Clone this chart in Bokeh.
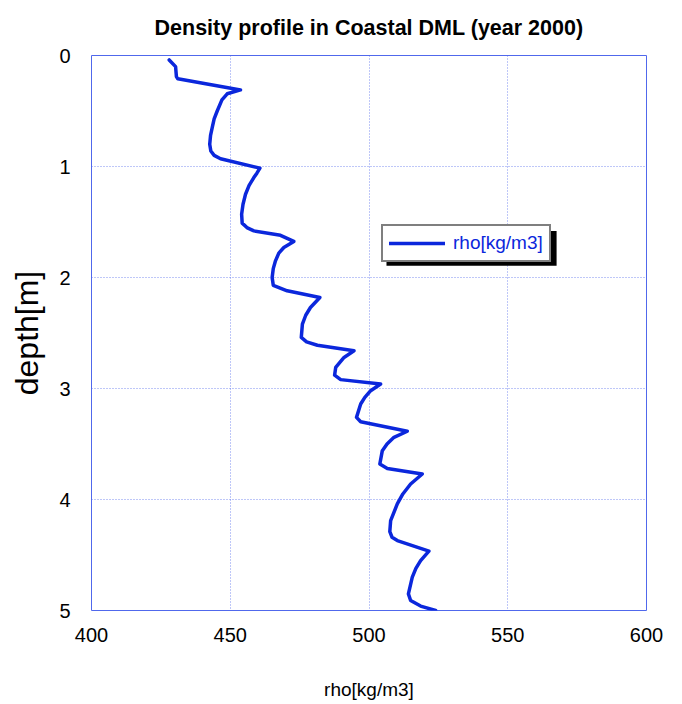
from bokeh.plotting import figure
from bokeh.models import (Range1d, FixedTicker, Legend, LegendItem, BoxAnnotation,
                          ColumnDataSource)
from bokeh.embed import file_html
from bokeh.resources import INLINE

# Firn density profile, Coastal DML, year 2000
depth_m = [0.04, 0.10, 0.19, 0.21, 0.31, 0.345, 0.40, 0.50, 0.57, 0.65, 0.72,
           0.80, 0.86, 0.90, 0.93,
           1.015, 1.06, 1.10, 1.17, 1.25, 1.34, 1.43, 1.51, 1.55, 1.58, 1.62,
           1.675, 1.73, 1.78, 1.85, 1.92, 2.00, 2.07, 2.12,
           2.18, 2.27, 2.34, 2.42, 2.54, 2.58, 2.61,
           2.66, 2.72, 2.81, 2.88, 2.92,
           2.96, 3.02, 3.08, 3.14, 3.26, 3.30,
           3.385, 3.44, 3.50, 3.56, 3.68, 3.72,
           3.77, 3.86, 3.95, 4.04, 4.19, 4.29, 4.34, 4.37,
           4.465, 4.55, 4.62, 4.70, 4.85, 4.91, 4.96, 5.00]
rho_kgm3 = [428.0, 430.3, 430.6, 431.1, 453.7, 448.9, 447.0, 445.3, 444.2, 443.5, 442.9,
            442.6, 443.0, 444.2, 446.5,
            460.7, 459.6, 458.5, 456.8, 455.5, 454.6, 454.1, 454.3, 456.0, 458.5, 468.1,
            472.9, 469.3, 467.5, 466.3, 465.5, 465.1, 465.5, 470.5,
            482.3, 478.9, 477.2, 476.0, 475.6, 477.5, 481.4,
            494.6, 491.0, 488.0, 487.6, 489.8,
            504.2, 500.6, 498.5, 497.0, 495.5, 497.0,
            513.8, 509.0, 506.5, 504.8, 503.9, 506.6,
            519.2, 515.0, 512.2, 510.2, 507.8, 507.5, 508.3, 510.2,
            521.6, 518.6, 516.9, 515.6, 514.2, 515.0, 518.6, 524.0]

x_ticks = [400, 450, 500, 550, 600]
y_ticks = [0, 1, 2, 3, 4, 5]

FONT = "Liberation Sans"
LINE_BLUE = "#0b27dc"
GRID_BLUE = "#5068ec"

p = figure(width=682, height=704, output_backend="svg", toolbar_location=None,
           x_range=Range1d(400, 600), y_range=Range1d(5, 0),
           min_border_left=91, min_border_right=36,
           min_border_top=55, min_border_bottom=94,
           title="Density profile in Coastal DML (year 2000)")

p.title.align = "center"
p.title.vertical_align = "top"
p.title.text_font = FONT
p.title.text_font_size = "21.5px"
p.title.text_font_style = "bold"
p.title.text_color = "black"
p.title.standoff = 28

p.outline_line_color = GRID_BLUE
p.outline_line_width = 1

for g in (p.xgrid, p.ygrid):
    g.grid_line_color = GRID_BLUE
    g.grid_line_dash = "1 2"
    g.grid_line_alpha = 0.75
p.xgrid.ticker = FixedTicker(ticks=x_ticks)
p.ygrid.ticker = FixedTicker(ticks=y_ticks)

for ax in (p.xaxis[0], p.yaxis[0]):
    ax.axis_line_color = None
    ax.major_tick_line_color = None
    ax.minor_tick_line_color = None
    ax.major_label_text_font = FONT
    ax.major_label_text_font_size = "20px"
    ax.major_label_text_color = "black"
    ax.axis_label_text_font = FONT
    ax.axis_label_text_font_style = "normal"
    ax.axis_label_text_color = "black"

p.xaxis[0].ticker = FixedTicker(ticks=x_ticks)
p.yaxis[0].ticker = FixedTicker(ticks=y_ticks)
p.xaxis[0].major_label_standoff = 11
p.yaxis[0].major_label_standoff = 15
p.xaxis[0].axis_label = "rho[kg/m3]"
p.xaxis[0].axis_label_text_font_size = "19px"
p.xaxis[0].axis_label_standoff = 34
p.yaxis[0].axis_label = "depth[m]"
p.yaxis[0].axis_label_text_font_size = "32px"
p.yaxis[0].axis_label_standoff = 11

src = ColumnDataSource(data=dict(rho=rho_kgm3, depth=depth_m))
r = p.line("rho", "depth", source=src, line_color=LINE_BLUE, line_width=3.5,
           line_join="round", line_cap="round")

# drop shadow behind the legend box
p.add_layout(BoxAnnotation(left=506.3, right=567.6, top=1.58, bottom=1.895,
                           fill_color="black", fill_alpha=1.0, line_color=None,
                           level="overlay"))

legend = Legend(items=[LegendItem(label="rho[kg/m3]", renderers=[r])],
                location=(290, 348), orientation="vertical",
                label_text_font=FONT, label_text_font_size="19px",
                label_text_color=LINE_BLUE, glyph_width=56, glyph_height=20,
                label_standoff=8, padding=6, margin=0, spacing=0,
                border_line_color="black", border_line_width=2,
                background_fill_color="white", background_fill_alpha=1.0)
p.add_layout(legend, "center")

open("out.html", "w").write(file_html(p, INLINE))
